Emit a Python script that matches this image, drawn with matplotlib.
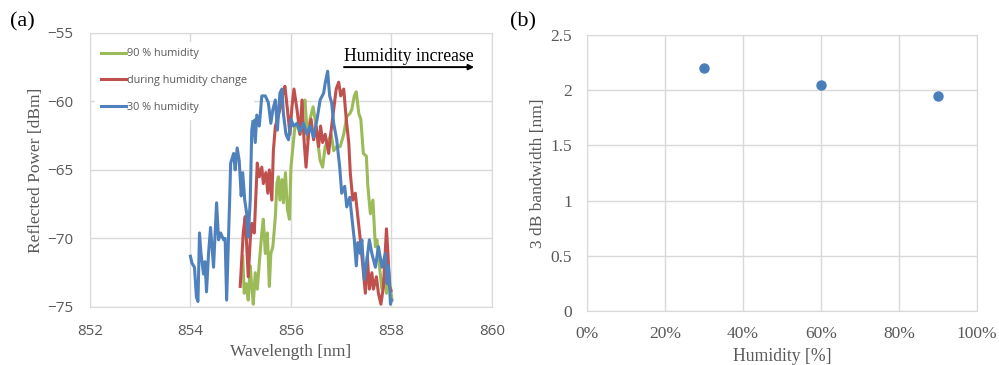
import numpy as np
import matplotlib.pyplot as plt
from matplotlib.ticker import FuncFormatter

# (a) reflected spectra
wl_30 = [854.00, 854.03, 854.08, 854.12, 854.15, 854.18, 854.21, 854.26, 854.29, 854.32,
         854.36, 854.40, 854.46, 854.52, 854.56, 854.60, 854.66, 854.69, 854.72, 854.78,
         854.80, 854.86, 854.89, 854.93, 854.97, 855.01, 855.04, 855.08, 855.12, 855.15,
         855.19, 855.22, 855.25, 855.29, 855.32, 855.37, 855.42, 855.49, 855.55, 855.60,
         855.64, 855.69, 855.73, 855.78, 855.82, 855.85, 855.90, 855.95, 856.00, 856.05,
         856.12, 856.18, 856.25, 856.32, 856.38, 856.45, 856.52, 856.58, 856.65, 856.68,
         856.73, 856.77, 856.81, 856.85, 856.91, 856.97, 857.01, 857.07, 857.11, 857.17,
         857.21, 857.26, 857.30, 857.33, 857.38, 857.41, 857.46, 857.51, 857.56, 857.61,
         857.68, 857.74, 857.81, 857.88, 857.91, 857.94, 857.98, 858.00]
p_30 = [-71.3, -71.8, -72.1, -74.3, -74.6, -69.6, -71.1, -72.6, -71.7, -73.9,
        -71.1, -69.2, -72.1, -67.4, -70.1, -69.6, -70.1, -70.0, -74.5, -67.2,
        -64.5, -63.8, -65.0, -63.4, -64.3, -66.9, -65.2, -67.2, -68.2, -69.9,
        -67.2, -62.1, -61.3, -63.0, -61.0, -61.8, -59.6, -59.6, -60.1, -61.6,
        -60.6, -59.9, -62.1, -59.4, -59.1, -60.9, -62.4, -62.8, -61.3, -61.8,
        -61.6, -62.2, -61.6, -62.4, -61.8, -62.6, -61.3, -59.9, -59.4, -58.7,
        -57.8, -59.6, -60.1, -61.6, -62.8, -64.8, -66.7, -66.2, -67.7, -67.0,
        -68.4, -70.1, -72.0, -70.3, -71.1, -70.1, -73.0, -71.6, -70.1, -71.1,
        -72.1, -70.6, -72.1, -71.1, -73.3, -72.0, -74.8, -74.5]

wl_mid = [854.99, 855.02, 855.05, 855.09, 855.12, 855.15, 855.19, 855.22, 855.27, 855.31,
          855.33, 855.37, 855.42, 855.45, 855.50, 855.54, 855.57, 855.62, 855.65, 855.69,
          855.73, 855.78, 855.84, 855.88, 855.93, 855.98, 856.02, 856.06, 856.12, 856.18,
          856.22, 856.26, 856.30, 856.35, 856.40, 856.45, 856.50, 856.55, 856.59, 856.63,
          856.68, 856.75, 856.79, 856.85, 856.90, 856.95, 856.99, 857.05, 857.10, 857.15,
          857.18, 857.23, 857.28, 857.33, 857.38, 857.43, 857.48, 857.52, 857.56, 857.61,
          857.64, 857.70, 857.74, 857.79, 857.84, 857.90, 857.93, 857.96, 857.99]
p_mid = [-73.5, -71.6, -69.6, -68.4, -70.6, -72.8, -70.1, -68.9, -69.6, -66.2,
         -64.5, -65.5, -64.8, -66.0, -65.2, -66.7, -65.0, -67.2, -63.6, -61.8,
         -61.3, -60.6, -59.4, -58.9, -60.6, -62.4, -60.4, -59.1, -60.6, -62.4,
         -59.9, -62.8, -64.8, -62.4, -61.3, -62.8, -61.8, -63.3, -61.8, -63.0,
         -62.4, -63.8, -62.4, -60.6, -59.1, -58.6, -59.6, -59.1, -61.3, -63.0,
         -65.2, -67.2, -66.7, -68.4, -70.1, -72.0, -74.0, -71.3, -73.7, -72.5,
         -73.7, -72.8, -74.0, -74.8, -73.5, -69.3, -71.1, -73.5, -73.8]

wl_90 = [855.04, 855.07, 855.11, 855.15, 855.19, 855.22, 855.25, 855.29, 855.33, 855.37,
         855.42, 855.45, 855.49, 855.53, 855.57, 855.60, 855.64, 855.69, 855.72, 855.75,
         855.78, 855.82, 855.85, 855.89, 855.93, 855.97, 856.00, 856.04, 856.08, 856.13,
         856.18, 856.23, 856.28, 856.33, 856.38, 856.44, 856.48, 856.53, 856.58, 856.63,
         856.68, 856.75, 856.80, 856.85, 856.91, 856.98, 857.05, 857.11, 857.17, 857.21,
         857.26, 857.30, 857.35, 857.39, 857.44, 857.50, 857.53, 857.58, 857.63, 857.68,
         857.71, 857.76, 857.81, 857.86, 857.90, 857.93, 857.96, 858.01]
p_90 = [-71.3, -74.0, -73.3, -74.5, -72.0, -73.5, -74.8, -72.5, -73.7, -71.8,
        -69.6, -68.6, -71.1, -69.6, -73.5, -71.1, -70.6, -68.4, -66.0, -65.5,
        -67.2, -65.7, -67.4, -65.2, -67.9, -68.6, -64.8, -63.3, -61.8, -61.8,
        -62.4, -60.4, -59.9, -62.8, -61.3, -60.4, -61.3, -62.8, -64.3, -64.8,
        -63.3, -62.8, -62.4, -63.6, -63.3, -63.3, -62.4, -61.1, -60.9, -60.6,
        -59.6, -59.3, -60.9, -61.3, -63.8, -64.0, -66.2, -68.2, -67.2, -70.6,
        -70.1, -72.0, -73.7, -72.8, -74.0, -72.0, -73.0, -74.5]

# (b) 3 dB bandwidth vs humidity
humidity = [0.30, 0.60, 0.90]
bandwidth = [2.20, 2.05, 1.95]

grid_c = '#D9D9D9'
tick_c = '#595959'
serif = 'Liberation Serif'

fig = plt.figure(figsize=(9.99, 3.65), dpi=100)

# ---- panel (a)
ax1 = fig.add_axes([0.090, 0.159, 0.4025, 0.751])
ax1.plot(wl_90, p_90, color='#9BBB59', lw=2.2, label='90 % humidity')
ax1.plot(wl_mid, p_mid, color='#C0504D', lw=2.2, label='during humidity change')
ax1.plot(wl_30, p_30, color='#4F81BD', lw=2.2, label='30 % humidity')
ax1.set_xlim(852, 860)
ax1.set_ylim(-75, -55)
ax1.set_xticks([852, 854, 856, 858, 860])
ax1.set_yticks([-75, -70, -65, -60, -55])
ax1.grid(True, color=grid_c, lw=1)
ax1.set_axisbelow(True)
for s in ax1.spines.values():
    s.set_color(grid_c)
ax1.tick_params(length=0, labelsize=11, colors=tick_c)
ax1.tick_params(axis='x', pad=12)
ax1.tick_params(axis='y', pad=12)
for lab in ax1.get_xticklabels() + ax1.get_yticklabels():
    lab.set_family('Open Sans')
ax1.set_xlabel('Wavelength [nm]', fontsize=12.5, color=tick_c, family=serif, labelpad=4)
ax1.set_ylabel('Reflected Power [dBm]', fontsize=12.5, color=tick_c, family=serif, labelpad=2)
leg = ax1.legend(loc='upper left', bbox_to_anchor=(0.0, 0.985), frameon=True,
                 prop={'family': 'Open Sans', 'size': 7.8}, handlelength=2.3,
                 handletextpad=0.1, labelspacing=1.45, borderpad=0.55)
leg.get_frame().set_edgecolor('white')
leg.get_frame().set_alpha(1)
for t in leg.get_texts():
    t.set_color(tick_c)
ax1.text(857.05, -56.7, 'Humidity increase', fontsize=12.7, family=serif, color='black',
         ha='left', va='center')
ax1.annotate('', xy=(859.7, -57.5), xytext=(857.0, -57.5),
             arrowprops=dict(arrowstyle='-|>', color='black', lw=1.4, mutation_scale=8))
fig.text(0.010, 0.94, '(a)', fontsize=16, family=serif, ha='left', va='center')

# ---- panel (b)
ax2 = fig.add_axes([0.5876, 0.148, 0.3904, 0.756])
ax2.plot(humidity, bandwidth, 'o', color='#4A7EBB', markersize=6.5)
ax2.set_xlim(0, 1)
ax2.set_ylim(0, 2.5)
ax2.set_xticks([0, 0.2, 0.4, 0.6, 0.8, 1.0])
ax2.set_yticks([0, 0.5, 1, 1.5, 2, 2.5])
ax2.xaxis.set_major_formatter(FuncFormatter(lambda v, p: '{:.0f}%'.format(v * 100)))
ax2.yaxis.set_major_formatter(FuncFormatter(lambda v, p: '{:g}'.format(v)))
ax2.grid(True, color=grid_c, lw=1)
ax2.set_axisbelow(True)
for s in ax2.spines.values():
    s.set_color(grid_c)
ax2.tick_params(length=0, labelsize=12.5, colors=tick_c)
ax2.tick_params(axis='x', pad=11)
ax2.tick_params(axis='y', pad=11)
for lab in ax2.get_xticklabels() + ax2.get_yticklabels():
    lab.set_family(serif)
ax2.set_xlabel('Humidity [%]', fontsize=12.7, color=tick_c, family=serif, labelpad=4)
ax2.set_ylabel('3 dB bandwidth [nm]', fontsize=12.5, color=tick_c, family=serif, labelpad=3)
fig.text(0.511, 0.94, '(b)', fontsize=16, family=serif, ha='left', va='center')

fig.savefig('out.png', dpi=100)
